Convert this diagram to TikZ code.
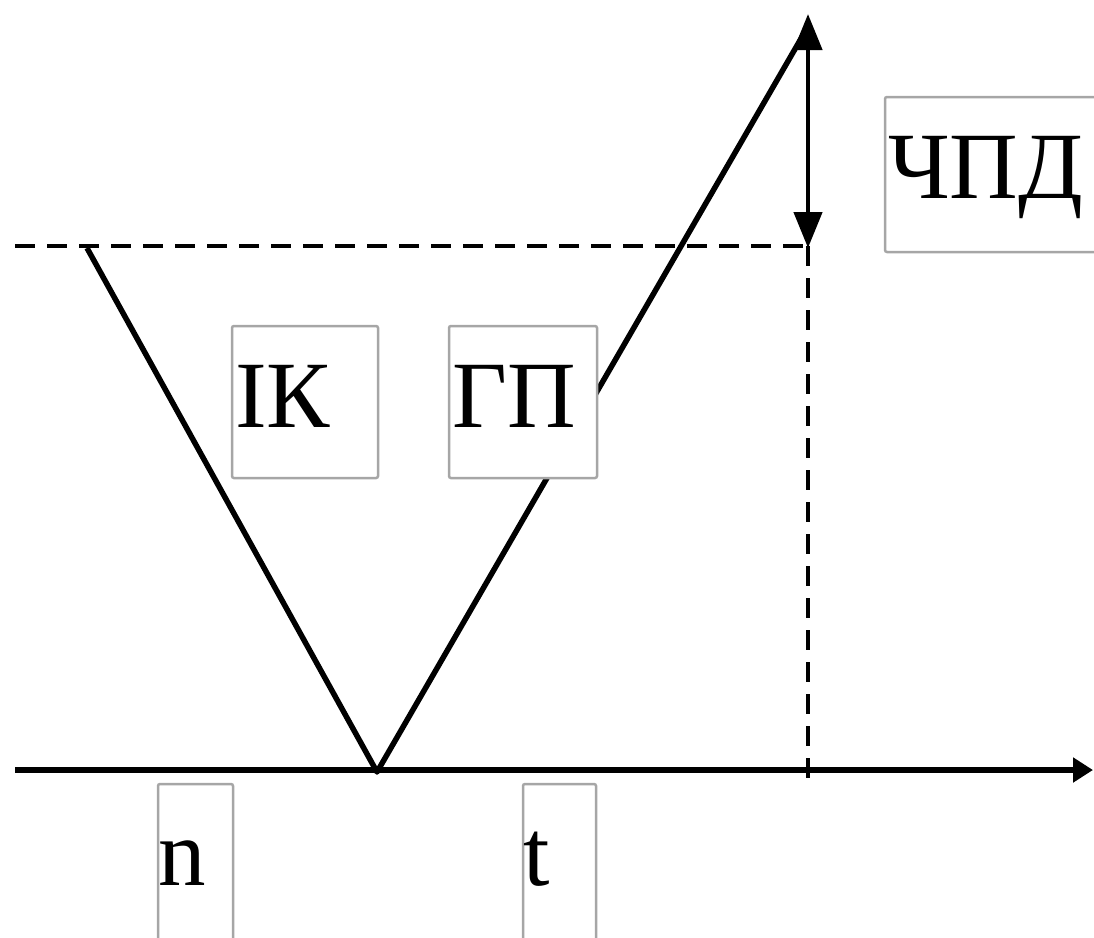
\documentclass[tikz,border=0pt]{standalone}
\usepackage{fontspec}
\setmainfont{Liberation Serif}
\usetikzlibrary{arrows.meta}
\begin{document}
\begin{tikzpicture}[x=1pt,y=-1pt,
  mainline/.style={line width=5.5pt, line join=round},
  dashline/.style={line width=3.5pt, dash pattern=on 20pt off 12pt},
  lblbox/.style={draw=black!35, fill=white, line width=2.5pt, rounded corners=2pt, inner sep=0pt},
  lbl/.style={font=\fontsize{95}{100}\selectfont, inner sep=0pt, anchor=base west}]
\useasboundingbox (0,0) rectangle (1094,937);
\clip (0,0) rectangle (1094,937);
% coordinates
\coordinate (axL) at (15,770);
\coordinate (axR) at (1093,770);
\coordinate (v) at (377,772);
\coordinate (lt) at (87,248);
\coordinate (rt) at (806,30);
\coordinate (dL) at (15,246);
\coordinate (dR) at (808,246);
\coordinate (dB) at (808,782);
\coordinate (aT) at (808,14);
\coordinate (aB) at (808,248);
% axis
\draw[mainline, -{Triangle[length=20pt,width=24pt]}] (axL) -- (axR);
% dashed lines
\draw[dashline] (dL) -- (dR);
\draw[dashline] (dR) -- (dB);
% V lines
\draw[mainline] (lt) -- (v) -- (rt);
% double arrow
\draw[line width=4.5pt, {Triangle[length=36pt,width=28pt]}-{Triangle[length=36pt,width=28pt]}] (aT) -- (aB);
% label boxes
\node[lblbox, minimum width=146pt, minimum height=152pt] (bIK) at (305,402) {};
\node[lblbox, minimum width=148pt, minimum height=152pt] (bGP) at (523,402) {};
\node[lblbox, minimum width=230pt, minimum height=155pt] (bCH) at (1000,174.5) {};
\node[lblbox, minimum width=75pt, minimum height=200pt] (bn) at (195.5,884) {};
\node[lblbox, minimum width=73pt, minimum height=200pt] (bt) at (559.5,884) {};
% texts
\node[lbl] (tIK) at (235,427) {ІК};
\node[lbl] (tGP) at (452,427) {ГП};
\node[lbl] (tCH) at (888,198) {ЧПД};
\node[lbl] (tn) at (158,885) {n};
\node[lbl] (tt) at (523,885) {t};
\end{tikzpicture}
\end{document}
